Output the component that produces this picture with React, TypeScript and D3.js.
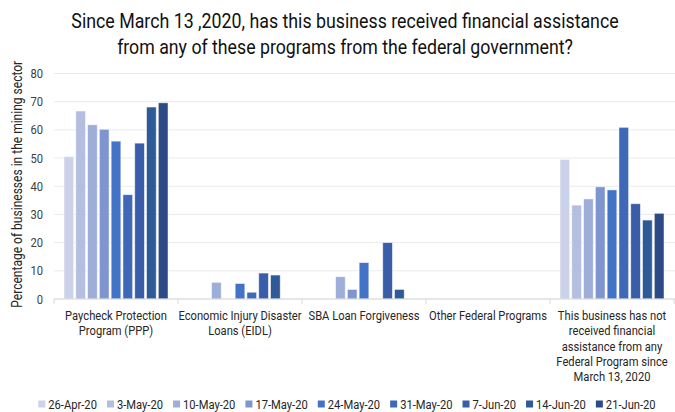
import React from "react";
import * as d3 from "d3";

const categories = [
  ["Paycheck Protection", "Program (PPP)"],
  ["Economic Injury Disaster", "Loans (EIDL)"],
  ["SBA Loan Forgiveness"],
  ["Other Federal Programs"],
  ["This business has not", "received financial", "assistance from any", "Federal Program since", "March 13, 2020"],
];
const seriesNames = ["26-Apr-20", "3-May-20", "10-May-20", "17-May-20", "24-May-20", "31-May-20", "7-Jun-20", "14-Jun-20", "21-Jun-20"];
const seriesColors = ["#CBD2EA", "#B4BEE0", "#9DAED9", "#7F95CF", "#4373C6", "#3F68B6", "#3A5DAA", "#2F5A98", "#2C4A86"];

// values per category, one per series (null = no bar)
const pppValues = [50.5, 66.7, 61.8, 60.2, 56.0, 37.0, 55.3, 68.1, 69.6];
const eidlValues = [null, null, 5.9, null, 5.5, 2.4, 9.2, 8.5, null];
const sbaValues = [null, null, 7.9, 3.4, 12.9, null, 20.0, 3.4, null];
const otherValues = [null, null, null, null, null, null, null, null, null];
const noneValues = [49.5, 33.3, 35.5, 39.8, 38.7, 60.9, 33.8, 28.0, 30.4];
const yTicks = [0, 10, 20, 30, 40, 50, 60, 70, 80];

const titleLines = [
  "Since March 13 ,2020, has this business received financial assistance",
  "from any of these programs from the federal government?",
];
const yAxisTitle = "Percentage of businesses in the mining sector";

const W = 675, H = 412;
const FONT = "Roboto, 'Noto Sans', sans-serif";
const SX = 0.86;

function rawWidth(text: string, size: number) {
  const c = document.createElement("canvas").getContext("2d")!;
  c.font = `${size}px Roboto`;
  return c.measureText(text).width;
}
function measure(text: string, size: number) {
  return rawWidth(text, size) * SX;
}

function CText({ x, y, size, anchor = "middle", fill = "#262626", sx = SX, children }: any) {
  return (
    <text transform={`translate(${x},${y}) scale(${sx},1)`} fontSize={size} textAnchor={anchor} fill={fill} fontFamily={FONT}>
      {children}
    </text>
  );
}

export default function App() {
  const allValues = [pppValues, eidlValues, sbaValues, otherValues, noneValues];
  const catKeys = categories.map((_, i) => String(i));
  const x = d3.scaleBand().domain(catKeys).range([54, 674]).padding(0);
  const inner = d3.scaleBand().domain(seriesNames).range([10, x.bandwidth() - 10]).paddingInner(0.18);
  const y = d3.scaleLinear().domain([0, 80]).range([299, 73.5]);

  // legend layout
  const lgSize = 13;
  const widths = seriesNames.map((s) => 7 + 3 + measure(s, lgSize));
  const gap = 10;
  const total = d3.sum(widths) + gap * (seriesNames.length - 1);
  let lx = 347 - total / 2;
  const legendPos = widths.map((w) => {
    const p = lx;
    lx += w + gap;
    return p;
  });

  const titleTargets = [548, 456];

  return (
    <svg width={W} height={H} style={{ position: "absolute", left: 0, top: 0, background: "#fff" }}>
      {/* title */}
      {titleLines.map((t, i) => {
        const w = rawWidth(t, 20) || 1;
        const s = Math.min(1, titleTargets[i] / w);
        return (
          <CText key={i} x={345} y={28 + i * 26} size={20} fill="#111" sx={s}>{t}</CText>
        );
      })}
      {/* gridlines */}
      {yTicks.map((t) => (
        <line key={t} x1={54} x2={675} y1={y(t)} y2={y(t)} stroke="#EBEBEB" strokeWidth={1} />
      ))}
      {/* y tick labels */}
      {yTicks.map((t) => (
        <CText key={t} x={43} y={y(t) + 4.5} size={13} anchor="end" fill="#404040">{t}</CText>
      ))}
      {/* y axis title */}
      <text transform={`translate(22,${y(40) - 2}) rotate(-90) scale(${SX},1)`} fontSize={14} textAnchor="middle" fill="#262626" fontFamily={FONT}>
        {yAxisTitle}
      </text>
      {/* bars */}
      {allValues.map((vals, ci) =>
        vals.map((v, si) =>
          v == null ? null : (
            <rect key={`${ci}-${si}`} x={x(catKeys[ci])! + inner(seriesNames[si])!} y={y(v)} width={inner.bandwidth()} height={y(0) - y(v)}
              fill={seriesColors[si]} stroke="#fff" strokeOpacity={0.6} strokeWidth={0.8} />
          )
        )
      )}
      {/* x axis */}
      <line x1={54} x2={675} y1={y(0)} y2={y(0)} stroke="#D9D9D9" strokeWidth={1} />
      {catKeys.concat(["end"]).map((k, i) => {
        const xx = 54 + i * x.bandwidth();
        return <line key={k} x1={xx} x2={xx} y1={y(0)} y2={y(0) + 5} stroke="#D9D9D9" strokeWidth={1} />;
      })}
      {categories.map((lines, ci) =>
        lines.map((ln, li) => (
          <CText key={`${ci}-${li}`} x={x(catKeys[ci])! + x.bandwidth() / 2} y={320 + li * 15.3} size={13}>{ln}</CText>
        ))
      )}
      {/* legend */}
      {seriesNames.map((s, i) => (
        <g key={s}>
          <rect x={legendPos[i]} y={400.5} width={7} height={7} fill={seriesColors[i]} />
          <CText x={legendPos[i] + 10} y={408.5} size={lgSize} anchor="start">{s}</CText>
        </g>
      ))}
    </svg>
  );
}
